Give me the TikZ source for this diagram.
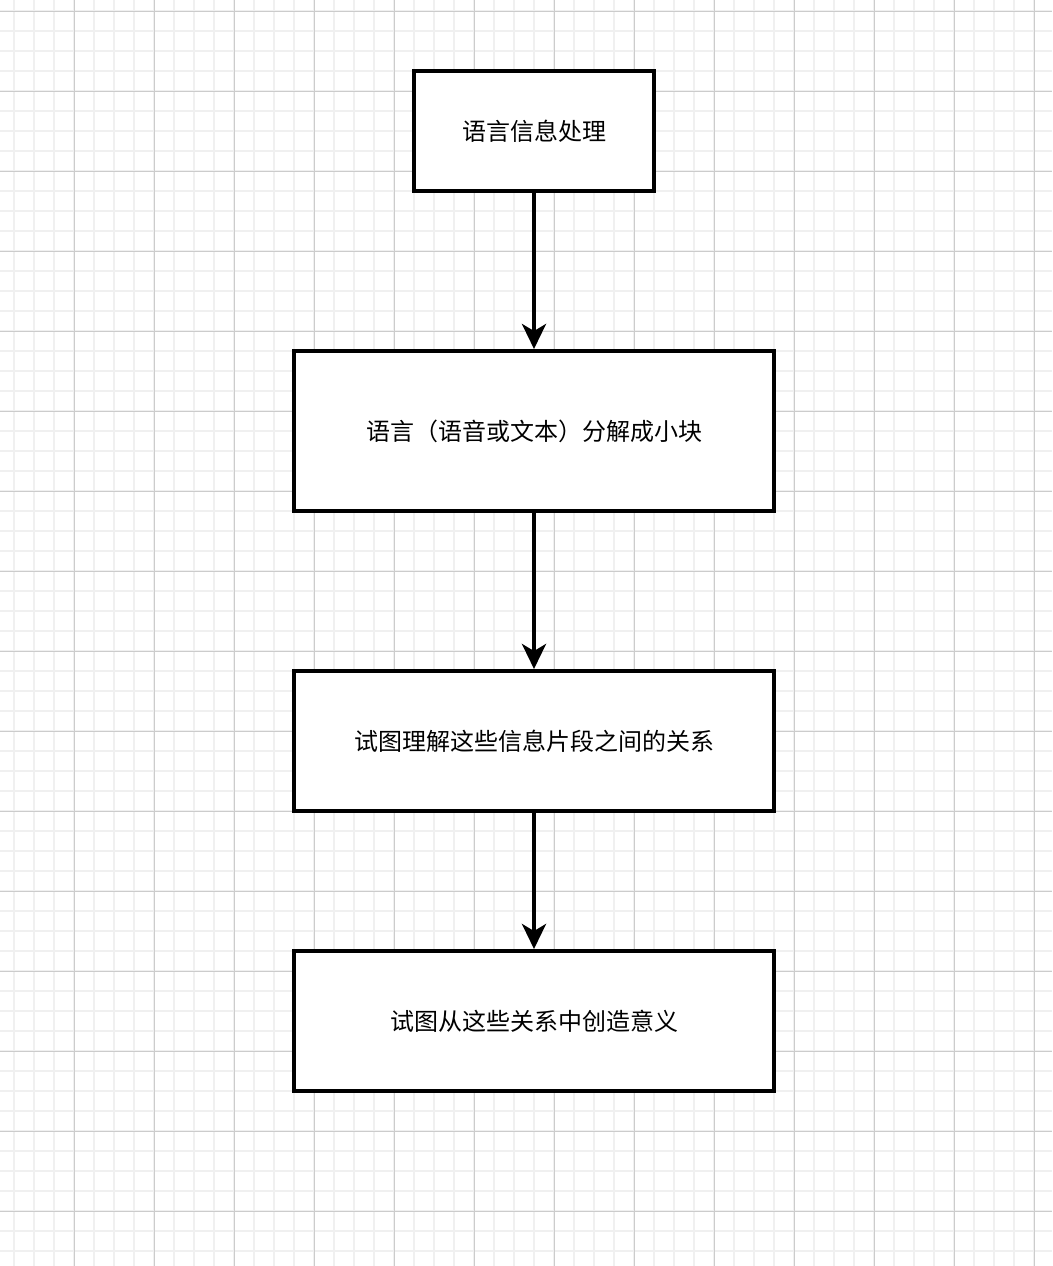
\documentclass[tikz,border=0pt]{standalone}
\usepackage{fontspec}
\newfontfamily\cjk{Noto Sans CJK SC}
\usetikzlibrary{arrows.meta}
\definecolor{minorgrid}{HTML}{F0F0F0}
\definecolor{majorgrid}{HTML}{CCCCCC}
\tikzset{
  flowbox/.style={draw=black, line width=4pt, fill=white, font=\cjk\fontsize{24pt}{28pt}\selectfont, text=black, inner sep=0pt},
  flowarrow/.style={line width=4pt, -{Stealth[length=25pt, width=24pt, inset=7pt]}}
}
\begin{document}
\begin{tikzpicture}[x=1pt, y=-1pt]
\useasboundingbox (0,0) rectangle (1052,1266);
\fill[white] (0,0) rectangle (1052,1266);
% minor grid
\foreach \x in {14,34,...,1034} \draw[minorgrid, line width=1.6pt] (\x,0) -- (\x,1266);
\foreach \y in {11,31,...,1251} \draw[minorgrid, line width=1.6pt] (0,\y) -- (1052,\y);
% major grid
\foreach \x in {74,154,...,1034} \draw[majorgrid, line width=1pt] (\x,0) -- (\x,1266);
\foreach \y in {11,91,...,1211} \draw[majorgrid, line width=1pt] (0,\y) -- (1052,\y);
% boxes
\node[flowbox, minimum width=240pt, minimum height=120pt] (b1) at (534,131) {语言信息处理};
\node[flowbox, minimum width=480pt, minimum height=160pt] (b2) at (534,431) {语言（语音或文本）分解成小块};
\node[flowbox, minimum width=480pt, minimum height=140pt] (b3) at (534,741) {试图理解这些信息片段之间的关系};
\node[flowbox, minimum width=480pt, minimum height=140pt] (b4) at (534,1021) {试图从这些关系中创造意义};
% arrows
\draw[flowarrow] (b1.south) -- (b2.north);
\draw[flowarrow] (b2.south) -- (b3.north);
\draw[flowarrow] (b3.south) -- (b4.north);
\end{tikzpicture}
\end{document}
